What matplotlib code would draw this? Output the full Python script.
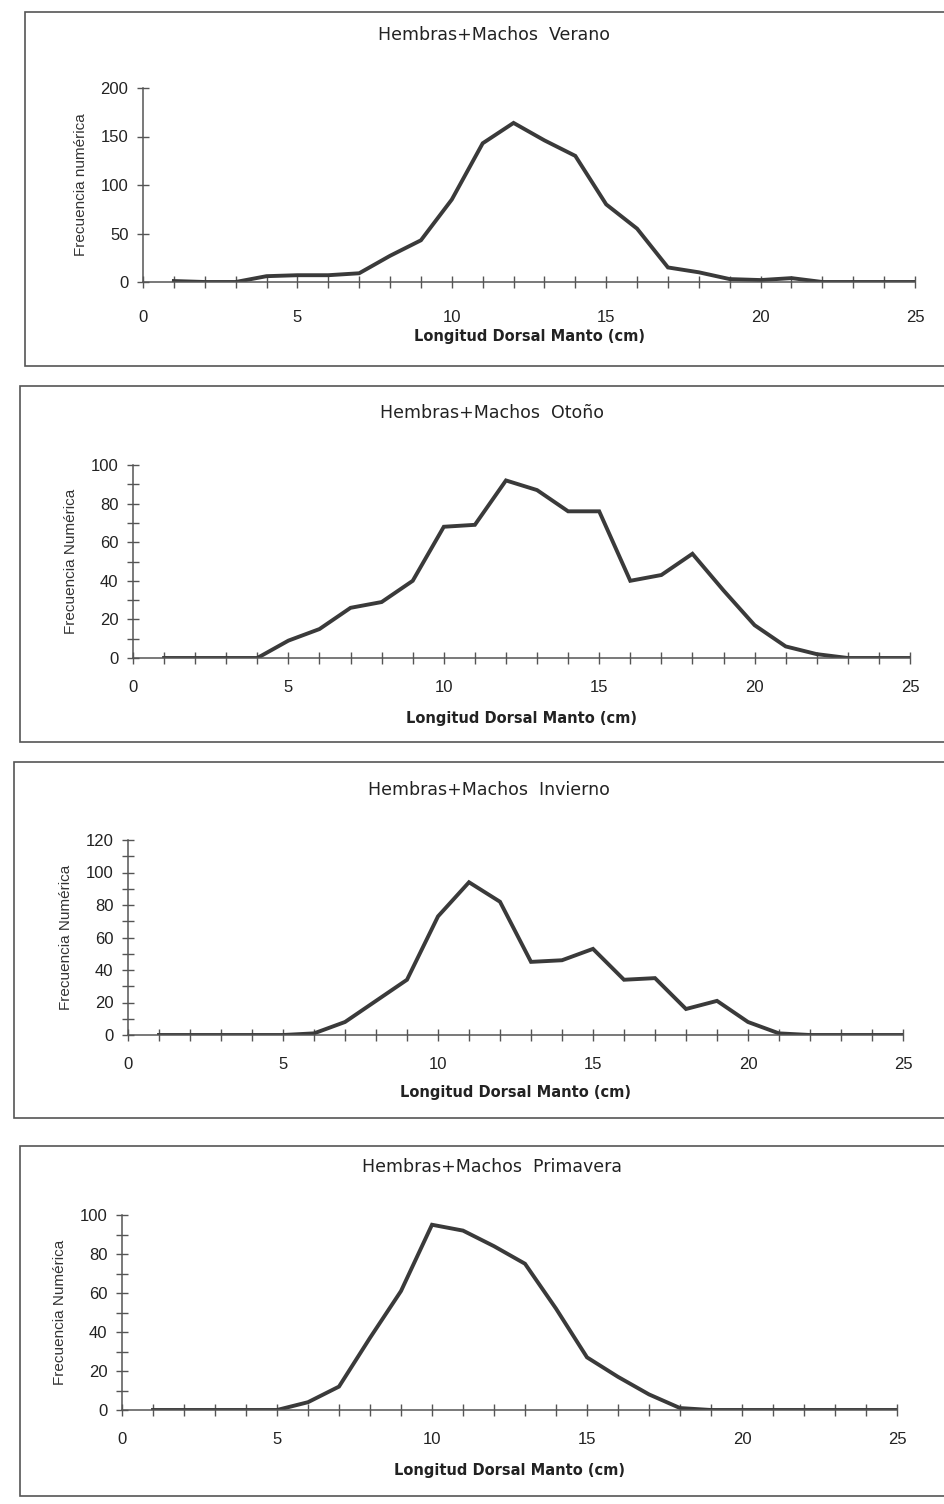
import numpy as np
import matplotlib.pyplot as plt
from matplotlib.patches import Rectangle
from matplotlib.ticker import MultipleLocator

plt.rcParams['font.family'] = ['Liberation Sans', 'DejaVu Sans']

# ---- datos: frecuencia por clase de talla (cm) ----
tallas = np.arange(1, 26)

verano = [1, 0, 0, 6, 7, 7, 9, 27, 43, 85, 143, 164, 146, 130, 80,
          55, 15, 10, 3, 2, 4, 0, 0, 0, 0]
otono = [0, 0, 0, 0, 9, 15, 26, 29, 40, 68, 69, 92, 87, 76, 76,
         40, 43, 54, 35, 17, 6, 2, 0, 0, 0]
invierno = [0, 0, 0, 0, 0, 1, 8, 21, 34, 73, 94, 82, 45, 46, 53,
            34, 35, 16, 21, 8, 1, 0, 0, 0, 0]
primavera = [0, 0, 0, 0, 0, 4, 12, 37, 61, 95, 92, 84, 75, 52, 27,
             17, 8, 1, 0, 0, 0, 0, 0, 0, 0]

titulos = ['Hembras+Machos  Verano', 'Hembras+Machos  Otoño',
           'Hembras+Machos  Invierno', 'Hembras+Machos  Primavera']
ylabels = ['Frecuencia numérica', 'Frecuencia Numérica',
           'Frecuencia Numérica', 'Frecuencia Numérica']
series = [verano, otono, invierno, primavera]
ymax = [200, 100, 120, 100]
ymajor = [50, 20, 20, 20]
yminor = [50, 10, 10, 10]

W, H = 945, 1504
fig = plt.figure(figsize=(W / 100, H / 100), dpi=100)

# cajas (px): marco del panel y ejes
marcos = [(25, 12, 945, 366), (20, 386, 945, 742),
          (14, 762, 945, 1118), (20, 1146, 945, 1496)]
ejes = [(143, 88, 915, 282), (133, 465, 910, 658),
        (128, 840, 903, 1035), (122, 1215, 897, 1410)]
titulo_y = [35, 413, 790, 1167]
xlabel_y = [337, 718, 1093, 1471]
xpad = [16, 11, 11, 11]

gris = '#3a3a3a'

for i in range(4):
    fx0, fy0, fx1, fy1 = marcos[i]
    fig.add_artist(Rectangle((fx0 / W, 1 - fy1 / H), (fx1 - fx0) / W,
                             (fy1 - fy0) / H, transform=fig.transFigure,
                             fill=False, edgecolor='#555555', lw=1.2))

    x0, y0, x1, y1 = ejes[i]
    ax = fig.add_axes([x0 / W, 1 - y1 / H, (x1 - x0) / W, (y1 - y0) / H])
    ax.plot(tallas, series[i], color=gris, lw=2.8, solid_joinstyle='miter')
    ax.set_xlim(0, 25)
    ax.set_ylim(0, ymax[i])
    ax.patch.set_visible(False)
    for s in ['top', 'right']:
        ax.spines[s].set_visible(False)
    for s in ['left', 'bottom']:
        ax.spines[s].set_color('#555555')
        ax.spines[s].set_linewidth(1.1)
        ax.spines[s].set_clip_on(False)

    ax.xaxis.set_major_locator(MultipleLocator(5))
    ax.xaxis.set_minor_locator(MultipleLocator(1))
    ax.yaxis.set_major_locator(MultipleLocator(ymajor[i]))
    ax.yaxis.set_minor_locator(MultipleLocator(yminor[i]))
    ax.tick_params(which='both', direction='inout', color='#555555', width=1)
    ax.tick_params(axis='x', which='both', length=9, pad=xpad[i])
    ax.tick_params(axis='y', which='both', length=9, pad=6)
    ax.tick_params(labelsize=12, labelcolor='#222222')

    ax.set_ylabel(ylabels[i], fontsize=11, color='#333333', labelpad=9)

    fig.text((fx0 + fx1) / 2 / W + 0.01, 1 - titulo_y[i] / H, titulos[i],
             ha='center', va='center', fontsize=12.5, color='#222222',
             family='DejaVu Sans')
    fig.text((x0 + x1) / 2 / W, 1 - xlabel_y[i] / H,
             'Longitud Dorsal Manto (cm)', ha='center', va='center',
             fontsize=10.5, color='#222222', fontweight='bold',
             family='DejaVu Sans')

fig.savefig('out.png', dpi=100, facecolor='white')
